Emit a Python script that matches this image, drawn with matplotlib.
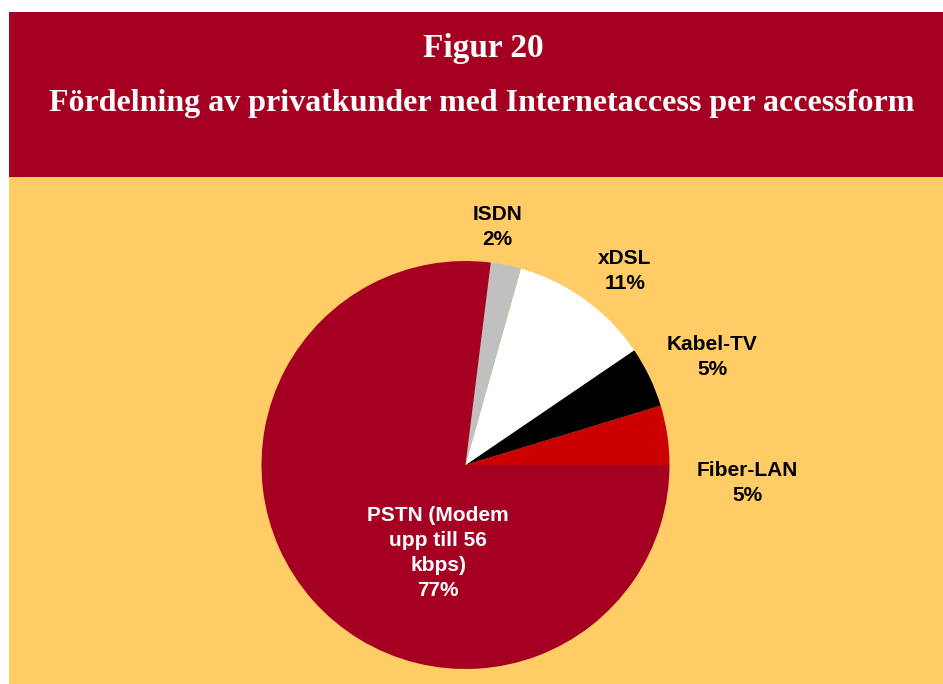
import matplotlib.pyplot as plt
from matplotlib.patches import Rectangle

# slice data, counter-clockwise from 3 o'clock
categories = ["Fiber-LAN", "Kabel-TV", "xDSL", "ISDN", "PSTN (Modem\nupp till 56\nkbps)"]
shares = [4.7, 4.8, 11.1, 2.4, 76.9]
colors = ["#CC0000", "#000000", "#FFFFFF", "#C0C0C0", "#A50021"]

title_line1 = "Figur 20"
title_line2 = "Fördelning av privatkunder med Internetaccess per accessform"

W, H = 943, 684
fig = plt.figure(figsize=(W / 100, H / 100), dpi=100)
fig.patch.set_facecolor("white")

# header band and yellow background (pixel coords -> figure fraction)
def px_rect(x0, y0, x1, y1, color):
    fig.patches.append(Rectangle((x0 / W, 1 - y1 / H), (x1 - x0) / W, (y1 - y0) / H,
                                 transform=fig.transFigure, facecolor=color,
                                 edgecolor="none", zorder=-5))

px_rect(9, 12, W, 177, "#A50021")
px_rect(9, 177, W, H, "#FFCC66")

fig.text(483 / W, 1 - 48 / H, title_line1, ha="center", va="center", color="white",
         fontsize=24, fontweight="bold", family="Liberation Serif")
fig.text(482 / W, 1 - 103 / H, title_line2, ha="center", va="center", color="white",
         fontsize=23, fontweight="bold", family="Liberation Serif")

# pie axes: centre (465.5, 465) px, radius 204 px
cx, cy, r = 465.5, 465, 204
ax = fig.add_axes([(cx - r) / W, (H - cy - r) / H, 2 * r / W, 2 * r / H])
ax.set_zorder(2)
ax.patch.set_visible(False)
ax.pie(shares, colors=colors, startangle=0, counterclock=True, radius=1,
       wedgeprops=dict(linewidth=0))
ax.set_xlim(-1, 1)
ax.set_ylim(-1, 1)
ax.set_aspect("equal")
ax.axis("off")

# label centres in pixels
label_px = [(747, 483), (712, 357), (625, 271), (497, 227), (438, 553)]
for name, v, (px, py) in zip(categories, shares, label_px):
    col = "white" if name.startswith("PSTN") else "black"
    ax.text((px - cx) / r, (cy - py) / r, f"{name}\n{v:.0f}%", ha="center", va="center",
            color=col, fontsize=15, fontweight="bold", family="Liberation Sans",
            linespacing=1.4, clip_on=False)

fig.savefig("out.png", dpi=100)
